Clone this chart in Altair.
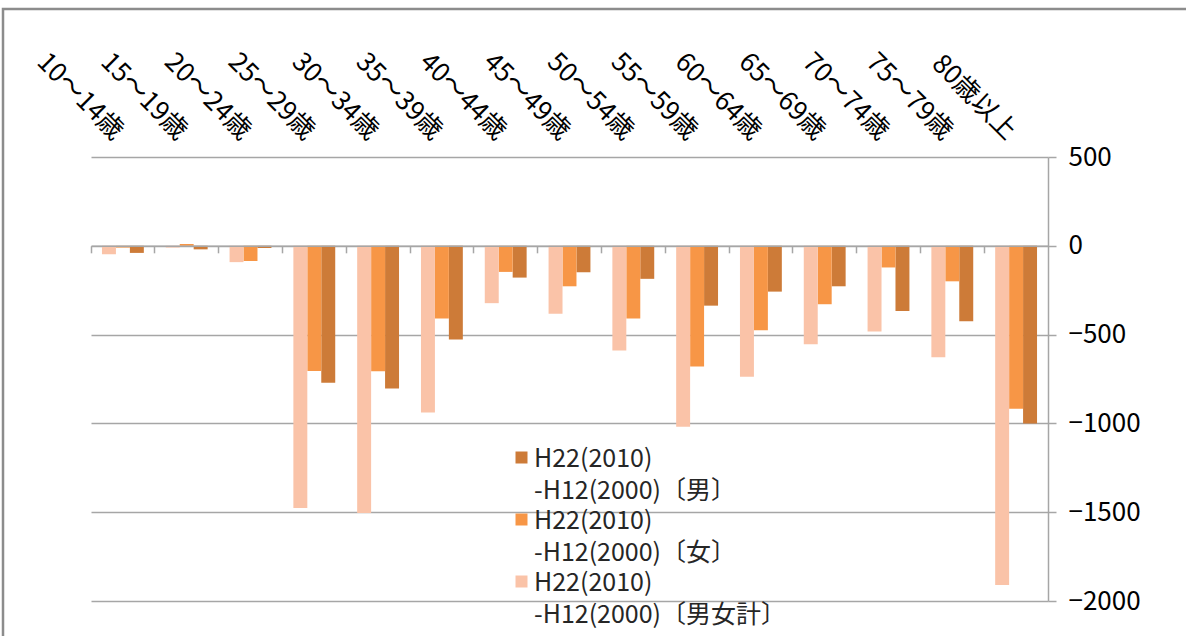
import altair as alt
import pandas as pd

# 年齢階級別の人口増減（H22(2010) − H12(2000)）
ages = ["10～14歳", "15～19歳", "20～24歳", "25～29歳", "30～34歳", "35～39歳",
        "40～44歳", "45～49歳", "50～54歳", "55～59歳", "60～64歳", "65～69歳",
        "70～74歳", "75～79歳", "80歳以上"]
male = [-40, -20, -12, -771, -803, -527, -179, -149, -186, -337, -258, -228, -367, -425, -1000]
female = [-10, 10, -85, -705, -707, -410, -147, -228, -410, -679, -476, -329, -122, -200, -917]
total = [-47, -10, -92, -1476, -1504, -938, -323, -382, -590, -1019, -737, -555, -483, -628, -1910]

series_keys = ["男", "女", "男女計"]
series_colors = ["#CD7B38", "#F79646", "#FAC3A8"]
bar_order = ["男女計", "女", "男"]
y_ticks = [500, 0, -500, -1000, -1500, -2000]

rows = []
for i, age in enumerate(ages):
    for key, vals in zip(series_keys, [male, female, total]):
        rows.append({"age": age, "series": key, "value": vals[i]})
df = pd.DataFrame(rows)

W, H = 957, 444
PAD = {"left": 91, "top": 157, "right": 138, "bottom": 35}
JP = "Noto Sans CJK JP"
GRID = "#A6A6A6"

# square legend swatch, raised to sit beside the first text line
SWATCH = "M-1,-2.5H1V-0.5H-1Z"

bars = alt.Chart(df).mark_bar().encode(
    x=alt.X(
        "age:N", sort=ages, title=None,
        scale=alt.Scale(paddingInner=0, paddingOuter=0),
        axis=alt.Axis(orient="top", labelAngle=45, labelAlign="right",
                      labelBaseline="middle", labelOffset=-4, labelPadding=22,
                      ticks=False, tickSize=0, domain=False, grid=False,
                      labelFont=JP, labelFontSize=26, labelColor="black"),
    ),
    xOffset=alt.XOffset("series:N", sort=bar_order,
                        scale=alt.Scale(paddingInner=0, paddingOuter=0.786)),
    y=alt.Y(
        "value:Q", title=None,
        scale=alt.Scale(domain=[-2000, 500], nice=False, zero=False),
        axis=alt.Axis(orient="right", values=y_ticks, format="d", grid=True,
                      gridColor=GRID, gridWidth=1.5,
                      domainColor=GRID, domainWidth=1.5,
                      tickColor=GRID, tickSize=8, tickWidth=1.5,
                      labelPadding=12, labelFont=JP, labelFontSize=26,
                      labelColor="black"),
    ),
    color=alt.Color(
        "series:N",
        scale=alt.Scale(domain=series_keys, range=series_colors),
        legend=alt.Legend(
            title=None, orient="none", legendX=418, legendY=297,
            symbolType=SWATCH, symbolSize=144, symbolStrokeWidth=0,
            labelExpr="['H22(2010)', '-H12(2000)〔' + datum.label + '〕']",
            labelFont=JP, labelFontSize=25, labelColor="#262626",
            labelLimit=600, labelBaseline="alphabetic", labelOffset=0,
            rowPadding=4, padding=0,
        ),
    ),
)

# horizontal axis line drawn at zero, with tick marks between age groups
zero_axis = alt.Chart(df).mark_rule(opacity=0).encode(
    x=alt.X(
        "age:N", sort=ages, title=None,
        axis=alt.Axis(orient="bottom", offset=-0.8 * H, labels=False,
                      bandPosition=0, grid=False,
                      domainColor=GRID, domainWidth=1.5,
                      tickColor=GRID, tickSize=7, tickWidth=1.5, zindex=1),
    ),
)

# outer chart frame
frame = alt.Chart(pd.DataFrame({"k": [0]})).mark_rect(
    fillOpacity=0, stroke="#8C8C8C", strokeWidth=2.5
).encode(
    x=alt.value(-PAD["left"] + 3), x2=alt.value(W + 300),
    y=alt.value(-PAD["top"] + 9), y2=alt.value(H + 300),
)

chart = alt.layer(frame, bars, zero_axis).resolve_axis(
    x="independent"
).properties(
    width=W, height=H, padding=PAD,
    autosize=alt.AutoSizeParams(type="none"),
).configure(
    view=alt.ViewConfig(strokeOpacity=0),
    style={"guide-label": {"lineHeight": 32}},
)

chart.save("out.html", embed_options={"renderer": "svg", "actions": False})
